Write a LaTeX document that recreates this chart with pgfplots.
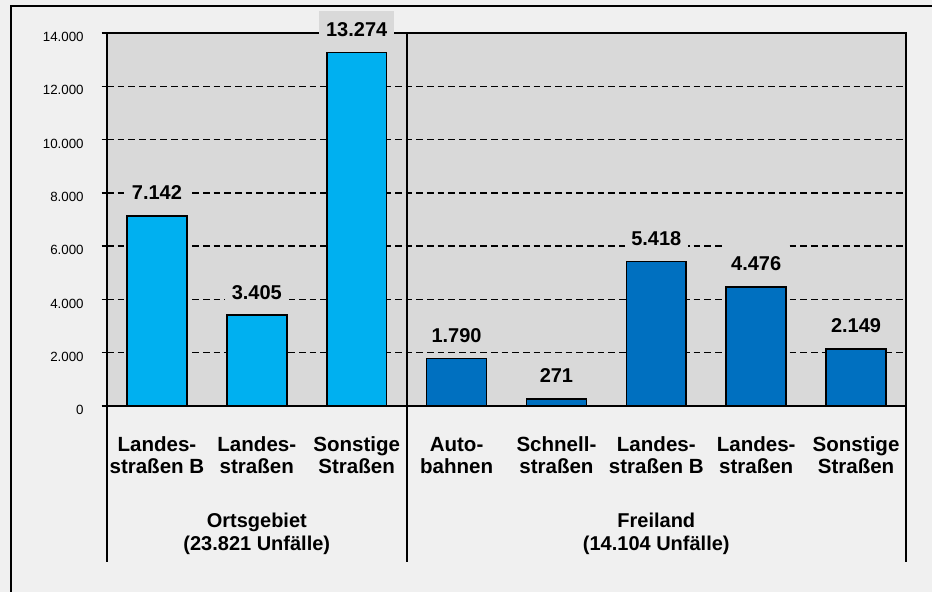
\documentclass[border=0pt]{standalone}
\usepackage{pgfplots}
\pgfplotsset{compat=1.18}
\usepackage{fontspec}
\setmainfont{Liberation Sans}

\definecolor{framebg}{HTML}{F0F0F0}
\definecolor{plotbg}{HTML}{D9D9D9}
\definecolor{lightblue}{HTML}{00B0F0}
\definecolor{darkblue}{HTML}{0070C0}

\begin{document}
\begin{tikzpicture}
\path[use as bounding box, fill=framebg] (0,0) rectangle (699pt,444pt);
\draw[line width=1.5pt] (8.25pt,-2pt) -- (8.25pt,439.5pt) -- (701pt,439.5pt);
\begin{axis}[
    at={(80.25pt,139.5pt)}, anchor=south west,
    scale only axis, width=599.25pt, height=279.75pt,
    clip=false,
    axis background/.style={fill=plotbg},
    axis line style={line width=1.5pt},
    xmin=-0.5, xmax=7.5, ymin=0, ymax=14000,
    xtick={0,...,7},
    xticklabels={{Landes-\\straßen B},{Landes-\\straßen},{Sonstige\\Straßen},
        {Auto-\\bahnen},{Schnell-\\straßen},{Landes-\\straßen B},{Landes-\\straßen},{Sonstige\\Straßen}},
    xticklabel style={font=\fontsize{15.4}{16.5}\selectfont\bfseries, align=center,
        anchor=north, inner sep=0pt, yshift=-19pt},
    xtick style={draw=none},
    ytick={0,2000,...,14000},
    ytick pos=left,
    tick align=outside,
    major tick length=4pt,
    ytick style={black, line width=1pt},
    scaled y ticks=false,
    yticklabel style={font=\fontsize{10}{12}\selectfont, xshift=-10pt, yshift=-3pt},
    /pgf/number format/fixed,
    /pgf/number format/1000 sep={.},
    /pgf/number format/assume math mode=true,
    ymajorgrids,
    grid style={black, line width=1pt, dash pattern=on 5pt off 3pt},
    nodes near coords={\pgfmathprintnumber{\pgfplotspointmeta}},
    nodes near coords style={font=\fontsize{15}{18}\selectfont\bfseries, text=black,
        fill=plotbg, anchor=south, inner xsep=5pt, inner ysep=3pt,
        text height=16.5pt, text depth=0pt, yshift=8.25pt},
]
% Ortsgebiet
\addplot[ybar, bar width=0.6, bar shift=0pt, fill=lightblue, draw=black, line width=1.2pt]
    coordinates {(0,7142) (1,3405) (2,13274)};
% Freiland
\addplot[ybar, bar width=0.6, bar shift=0pt, fill=darkblue, draw=black, line width=1.2pt]
    coordinates {(3,1790) (4,271) (5,5418) (6,4476) (7,2149)};

% Trennlinien
\draw[line width=1.5pt] (axis cs:2.5,14000) -- ([yshift=-117pt]axis cs:2.5,0);
\draw[line width=1.5pt] (axis cs:-0.5,0) -- ([yshift=-117pt]axis cs:-0.5,0);
\draw[line width=1.5pt] (axis cs:7.5,0) -- ([yshift=-117pt]axis cs:7.5,0);

\node[font=\fontsize{15}{17.25}\selectfont\bfseries, align=center, anchor=north, inner sep=0pt]
    at (axis cs:1,0) [yshift=-80.25pt] {Ortsgebiet\\(23.821 Unfälle)};
\node[font=\fontsize{15}{17.25}\selectfont\bfseries, align=center, anchor=north, inner sep=0pt]
    at (axis cs:5,0) [yshift=-80.25pt] {Freiland\\(14.104 Unfälle)};
\end{axis}
\end{tikzpicture}
\end{document}
